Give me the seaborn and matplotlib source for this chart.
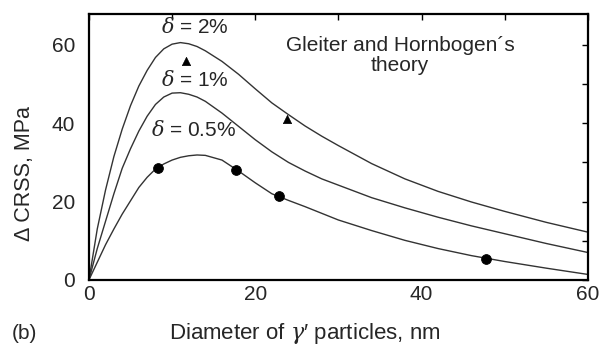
import matplotlib
matplotlib.use("Agg")
import matplotlib.pyplot as plt
import seaborn as sns
import pandas as pd
from matplotlib.ticker import MultipleLocator

# ---- data ----
x_curve = [0, 1, 2, 3, 4, 5, 6, 7, 8, 9, 10, 11, 12, 13, 14, 16, 18, 20, 22, 24,
           26, 28, 30, 34, 38, 42, 46, 50, 55, 60]
y_delta_2 = [0, 13, 23, 31.5, 38.5, 44.5, 49.5, 53.5, 56.8, 59, 60.2, 60.6, 60.3, 59.6,
             58.5, 55.8, 52.5, 48.8, 45.2, 42.2, 39.3, 36.7, 34.3, 29.7, 25.8, 22.6, 19.9,
             17.5, 14.7, 12.2]
y_delta_1 = [0, 8, 15, 22, 28.5, 33.5, 38, 41.8, 44.8, 46.7, 47.7, 47.8, 47.4, 46.7,
             45.6, 42.6, 39.2, 35.8, 32.7, 30, 27.8, 25.8, 24.2, 21, 18.4, 16, 13.8,
             11.8, 9.3, 7]
y_delta_05 = [0, 4.5, 9, 13, 16.8, 20.2, 23.6, 26.2, 28.3, 29.6, 30.6, 31.3, 31.7, 31.9,
              31.8, 30.6, 27.8, 24.8, 22, 20.3, 18.7, 17, 15.3, 12.6, 10.1, 8, 6.2,
              4.7, 3, 1.4]

tri_x = [11.7, 23.8]
tri_y = [55.9, 41.2]
circ_x = [8.3, 17.7, 22.9, 47.7]
circ_y = [28.7, 28.0, 21.4, 5.3]

curve_labels = [r"$\delta$ = 2%", r"$\delta$ = 1%", r"$\delta$ = 0.5%"]
x_ticks = [0, 20, 40, 60]
y_ticks = [0, 20, 40, 60]

# ---- build tables ----
curves = pd.concat([
    pd.DataFrame({"x": x_curve, "y": y_delta_2, "series": "2"}),
    pd.DataFrame({"x": x_curve, "y": y_delta_1, "series": "1"}),
    pd.DataFrame({"x": x_curve, "y": y_delta_05, "series": "0.5"}),
])
tri = pd.DataFrame({"x": tri_x, "y": tri_y})
circ = pd.DataFrame({"x": circ_x, "y": circ_y})

sns.set_style("white")
plt.rcParams["font.family"] = ["Liberation Sans", "DejaVu Sans"]
plt.rcParams["mathtext.fontset"] = "dejavuserif"

FS = 15

fig = plt.figure(figsize=(6.01, 3.49), dpi=100)
ax = fig.add_axes([0.148, 0.198, 0.830, 0.763])

sns.lineplot(data=curves, x="x", y="y", units="series", estimator=None,
             color="#333333", linewidth=1.0, ax=ax, sort=False)
sns.scatterplot(data=tri, x="x", y="y", marker="^", color="black", s=36,
                edgecolor="black", ax=ax, zorder=5)
sns.scatterplot(data=circ, x="x", y="y", marker="o", color="black", s=50,
                edgecolor="black", ax=ax, zorder=5)

ax.set_xlim(0, 60)
ax.set_ylim(0, 68)
ax.set_xticks(x_ticks)
ax.set_yticks(y_ticks)
ax.xaxis.set_minor_locator(MultipleLocator(10))
ax.yaxis.set_minor_locator(MultipleLocator(10))
ax.tick_params(axis="both", which="both", direction="in", top=True, right=True,
               length=4.5, width=1.0, color="black")
ax.tick_params(axis="both", which="major", labelsize=FS)
ax.tick_params(axis="x", which="major", pad=4)
ax.tick_params(axis="y", which="major", pad=10)
for sp in ax.spines.values():
    sp.set_linewidth(1.6)
    sp.set_color("black")

ax.set_xlabel(r"Diameter of $\gamma$′ particles, nm", fontsize=16)
ax.set_ylabel("Δ CRSS, MPa", fontsize=15.5)
ax.xaxis.set_label_coords(0.433, -0.155)
ax.yaxis.set_label_coords(-0.109, 0.40)

ax.text(12.7, 64.5, curve_labels[0], fontsize=FS, ha="center", va="center")
ax.text(12.7, 51.0, curve_labels[1], fontsize=FS, ha="center", va="center")
ax.text(12.6, 38.2, curve_labels[2], fontsize=FS, ha="center", va="center")
ax.text(37.4, 57.3, "Gleiter and Hornbogen´s\ntheory", fontsize=FS,
        ha="center", va="center", linespacing=1.1)
fig.text(0.02, 0.045, "(b)", fontsize=FS, ha="left", va="center")

fig.savefig("out.png", dpi=100)
